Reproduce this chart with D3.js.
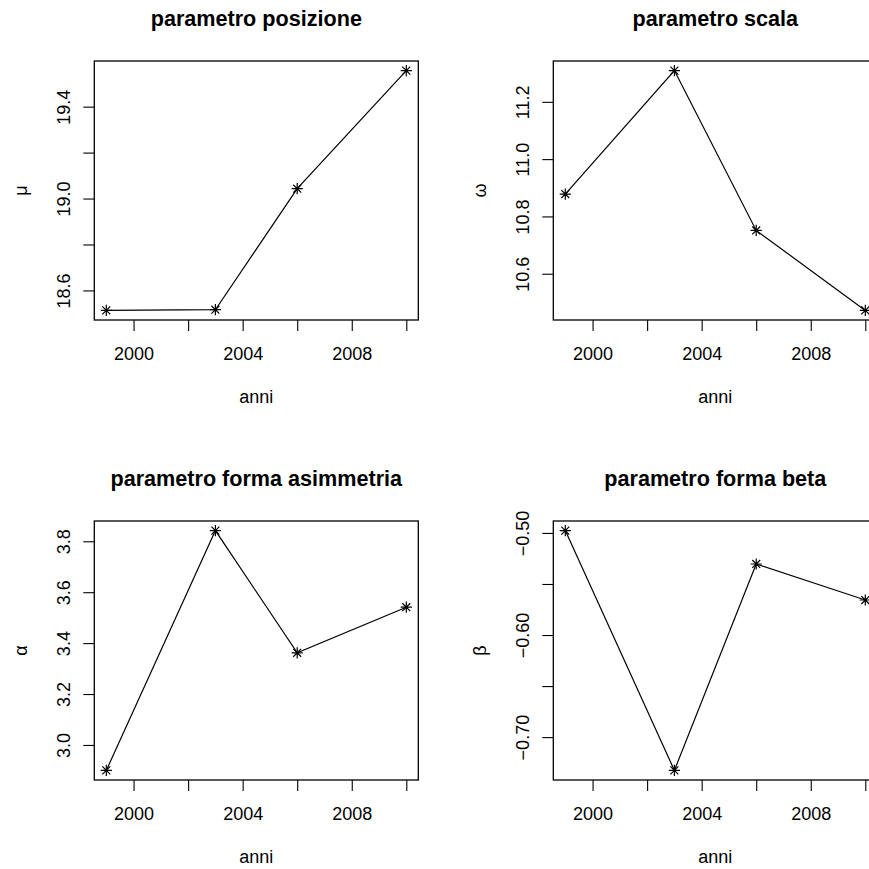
<!DOCTYPE html>
<html>
<head>
<meta charset="utf-8">
<script src="https://cdn.jsdelivr.net/npm/d3@7"></script>
<style>
  body { margin: 0; background: #fff; }
  svg { display: block; font-family: "Liberation Sans", Arial, Helvetica, sans-serif; }
</style>
</head>
<body>
<div id="chart"></div>
<script>
// years on the x axis (shared by all four panels)
const anni = [1999, 2003, 2006, 2010];

// parameter estimates
const mu = [18.513, 18.516, 19.043, 19.557];
const omega = [10.878, 11.309, 10.751, 10.472];
const alpha = [2.9, 3.842, 3.362, 3.541];
const beta = [-0.4977, -0.7326, -0.5304, -0.5657];

// tick values and the labels R kept (empty = tick without label)
const xTicks = [2000, 2002, 2004, 2006, 2008, 2010];
const xLabels = ["2000", "", "2004", "", "2008", ""];
const muTicks = [18.6, 18.8, 19.0, 19.2, 19.4];
const muLabels = ["18.6", "", "19.0", "", "19.4"];
const omegaTicks = [10.6, 10.8, 11.0, 11.2];
const omegaLabels = ["10.6", "10.8", "11.0", "11.2"];
const alphaTicks = [3.0, 3.2, 3.4, 3.6, 3.8];
const alphaLabels = ["3.0", "3.2", "3.4", "3.6", "3.8"];
const betaTicks = [-0.70, -0.65, -0.60, -0.55, -0.50];
const betaLabels = ["\u22120.70", "", "\u22120.60", "", "\u22120.50"];

const titles = ["parametro posizione", "parametro scala", "parametro forma asimmetria", "parametro forma beta"];
const yNames = ["\u03bc", "\u03c9", "\u03b1", "\u03b2"];

const panels = [
  { title: titles[0], ylab: yNames[0], values: mu, ticks: muTicks, labels: muLabels, col: 0, row: 0 },
  { title: titles[1], ylab: yNames[1], values: omega, ticks: omegaTicks, labels: omegaLabels, col: 1, row: 0 },
  { title: titles[2], ylab: yNames[2], values: alpha, ticks: alphaTicks, labels: alphaLabels, col: 0, row: 1 },
  { title: titles[3], ylab: yNames[3], values: beta, ticks: betaTicks, labels: betaLabels, col: 1, row: 1 },
];

const W = 869, H = 869;
const cellW = 459, cellH = 460;
const margin = { left: 94.3, top: 61, right: 40.7, bottom: 140 };
const plotW = cellW - margin.left - margin.right; // 324
const plotH = cellH - margin.top - margin.bottom; // 259
const fontSize = 18;

// R style range: data range padded by 4% on each side
const padded = (arr) => {
  const [lo, hi] = d3.extent(arr);
  const d = (hi - lo) * 0.04;
  return [lo - d, hi + d];
};

const svg = d3.select("#chart")
  .append("svg")
  .attr("width", W)
  .attr("height", H);

const x = d3.scaleLinear().domain(padded(anni)).range([0, plotW]);

// asterisk marker like R pch = 8
const star = (g, s) => {
  const d = s / Math.SQRT2;
  g.append("path")
    .attr("d", `M${-s},0H${s}M0,${-s}V${s}M${-d},${-d}L${d},${d}M${-d},${d}L${d},${-d}`)
    .attr("stroke", "#000")
    .attr("stroke-width", 1.2)
    .attr("fill", "none");
};

panels.forEach((p) => {
  const g = svg.append("g")
    .attr("transform", `translate(${p.col * cellW + margin.left},${p.row * cellH + margin.top})`);

  const y = d3.scaleLinear().domain(padded(p.values)).range([plotH, 0]);

  // x axis
  const xAxis = g.append("g")
    .attr("transform", `translate(0,${plotH})`)
    .call(d3.axisBottom(x)
      .tickValues(xTicks)
      .tickSize(11)
      .tickFormat((d, i) => xLabels[i]));
  xAxis.select(".domain").remove();
  xAxis.selectAll("line").attr("stroke-width", 1.1);
  xAxis.selectAll("text")
    .attr("y", 40)
    .attr("dy", null)
    .attr("fill", "#000")
    .style("font-size", fontSize + "px")
    .style("font-family", "'Liberation Sans', Arial, Helvetica, sans-serif");

  // y axis
  const yAxis = g.append("g")
    .call(d3.axisLeft(y)
      .tickValues(p.ticks)
      .tickSize(11)
      .tickFormat((d, i) => p.labels[i]));
  yAxis.select(".domain").remove();
  yAxis.selectAll("line").attr("stroke-width", 1.1);
  yAxis.selectAll("text")
    .attr("x", null)
    .attr("dy", null)
    .attr("text-anchor", "middle")
    .attr("transform", "translate(-24,0) rotate(-90)")
    .attr("fill", "#000")
    .style("font-size", fontSize + "px")
    .style("font-family", "'Liberation Sans', Arial, Helvetica, sans-serif");

  // box
  g.append("rect")
    .attr("width", plotW)
    .attr("height", plotH)
    .attr("fill", "none")
    .attr("stroke", "#000")
    .attr("stroke-width", 1.3);

  // line
  const line = d3.line()
    .x((d, i) => x(anni[i]))
    .y((d) => y(d));
  g.append("path")
    .datum(p.values)
    .attr("d", line)
    .attr("fill", "none")
    .attr("stroke", "#000")
    .attr("stroke-width", 1.2);

  // points
  p.values.forEach((v, i) => {
    const pt = g.append("g").attr("transform", `translate(${x(anni[i])},${y(v)})`);
    star(pt, 5.6);
  });

  // title
  g.append("text")
    .attr("x", plotW / 2)
    .attr("y", -35)
    .attr("text-anchor", "middle")
    .style("font-size", "21.6px")
    .style("font-weight", "bold")
    .text(p.title);

  // x label
  g.append("text")
    .attr("x", plotW / 2)
    .attr("y", plotH + 83)
    .attr("text-anchor", "middle")
    .style("font-size", fontSize + "px")
    .text("anni");

  // y label
  g.append("text")
    .attr("transform", `translate(-67,${plotH / 2}) rotate(-90)`)
    .attr("text-anchor", "middle")
    .style("font-size", fontSize + "px")
    .text(p.ylab);
});
</script>
</body>
</html>
